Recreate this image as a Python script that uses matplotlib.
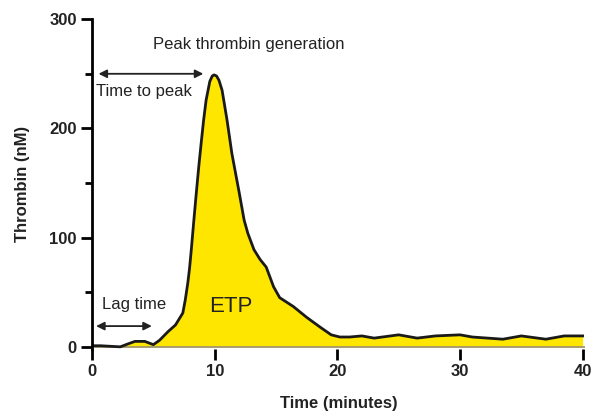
import matplotlib.pyplot as plt
from matplotlib.ticker import MultipleLocator

plt.rcParams['font.family'] = ['Liberation Sans', 'DejaVu Sans']

# Данные кривой генерации тромбина
time = [0, 0.7, 1.5, 2.3, 3.0, 3.5, 4.3, 5.0, 5.5, 6.2, 6.8, 7.4, 7.6, 7.8, 7.95,
        8.1, 8.3, 8.5, 8.7, 8.9, 9.1, 9.3, 9.6, 9.8, 9.95, 10.15, 10.35, 10.6,
        11.0, 11.4, 12.0, 12.4, 12.7, 13.2, 13.7, 14.2, 14.8, 15.3, 16.4, 17.5,
        18.6, 19.5, 20.2, 21.0, 22.0, 23.0, 25.0, 26.5, 28.0, 30.0, 31.0, 33.5,
        35.0, 37.0, 38.5, 40.0]
thrombin = [1, 1, 0.5, 0, 3, 5, 5, 2, 6, 14, 20, 31, 43, 58, 72,
            90, 116, 141, 165, 187, 208, 226, 243, 248, 249, 248, 244, 235,
            208, 177, 141, 116, 104, 89, 80, 73, 55, 45, 37, 27,
            18, 11, 9, 9, 10, 8, 11, 8, 10, 11, 9, 7,
            10, 7, 10, 10]

x_ticks = [0, 10, 20, 30, 40]
y_ticks = [0, 100, 200, 300]

fig = plt.figure(figsize=(5.94, 4.17), dpi=100)
ax = fig.add_axes([0.155, 0.163, 0.83, 0.791])

ax.fill_between(time, thrombin, 0, color='#ffe600', lw=0)
ax.plot(time, thrombin, color='#1a1a1a', lw=2, solid_joinstyle='round')
ax.axhline(0, color='#9a9070', lw=1.2, zorder=1)

ax.set_xlim(0, 40.2)
ax.set_ylim(-2, 300)
ax.set_xticks(x_ticks)
ax.set_yticks(y_ticks)
ax.yaxis.set_minor_locator(MultipleLocator(50))

for s in ['top', 'right', 'bottom']:
    ax.spines[s].set_visible(False)
ax.spines['left'].set_linewidth(2)
ax.tick_params(axis='both', which='major', width=2, length=8, color='black')
ax.tick_params(axis='y', which='minor', width=2, length=5, color='black')
ax.tick_params(axis='both', labelsize=12, pad=3)
for lab in ax.get_xticklabels() + ax.get_yticklabels():
    lab.set_fontweight('bold')
    lab.set_color('#222222')

ax.set_xlabel('Time (minutes)', fontsize=12, fontweight='bold', labelpad=12, color='#222222')
ax.set_ylabel('Thrombin (nM)', fontsize=12, fontweight='bold', labelpad=14, color='#222222')

# Подписи и стрелки
ax.text(12.8, 277, 'Peak thrombin generation', fontsize=12, ha='center', va='center', color='#222222')
ax.annotate('', xy=(0.3, 250), xytext=(9.3, 250),
            arrowprops=dict(arrowstyle='<|-|>', color='#222222', lw=1.3, mutation_scale=12))
ax.text(0.35, 234, 'Time to peak', fontsize=12, ha='left', va='center', color='#222222')
ax.annotate('', xy=(0.1, 19), xytext=(5.1, 19),
            arrowprops=dict(arrowstyle='<|-|>', color='#222222', lw=1.3, mutation_scale=12))
ax.text(3.4, 39, 'Lag time', fontsize=12, ha='center', va='center', color='#222222')
ax.text(11.3, 37, 'ETP', fontsize=16, ha='center', va='center', color='#222222')

plt.savefig('out.png', dpi=100)
